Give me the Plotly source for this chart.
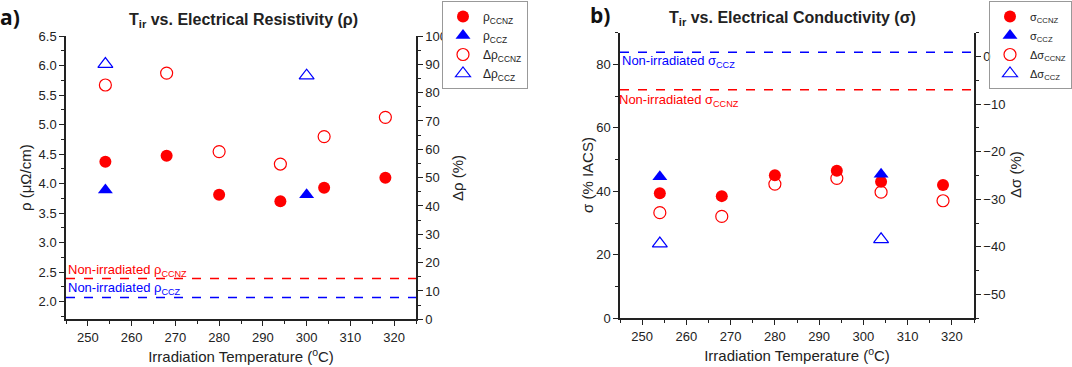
import plotly.graph_objects as go

# ---- data ----
temp_ccnz = [254, 268, 280, 294, 304, 318]
temp_ccz = [254, 300]
rho_ccnz = [4.37, 4.47, 3.81, 3.70, 3.93, 4.10]
rho_ccz = [3.89, 3.81]
drho_ccnz = [82.7, 86.9, 59.2, 54.8, 64.5, 71.3]
drho_ccz = [90.1, 86.0]
rho_ref_ccnz = 2.39
rho_ref_ccz = 2.07

temp_ccz_b = [254, 304]
sig_ccnz = [39.4, 38.5, 45.1, 46.5, 43.0, 42.0]
sig_ccz = [44.6, 45.4]
dsig_ccnz = [-32.8, -33.6, -26.8, -25.6, -28.5, -30.3]
dsig_ccz = [-39.3, -38.4]
sig_ref_ccz = 83.8
sig_ref_ccnz = 72.0

RED = "#ff0000"
BLUE = "#0000ff"
FONT = "Arial, Liberation Sans, sans-serif"
W, H = 1072, 367
ML, MR, MT, MB = 60, 82, 30, 45
PW, PH = W - ML - MR, H - MT - MB


def px(x):
    return (x - ML) / PW


def py(y):
    return (H - MB - y) / PH


fig = go.Figure()


def add(x, y, name, color, symbol, size, xa, ya, legend, open_=False):
    if open_:
        marker = dict(symbol=symbol, size=size, color=color, line=dict(color=color, width=1.2))
    else:
        marker = dict(symbol=symbol, size=size, color=color, line=dict(width=0))
    fig.add_trace(go.Scatter(x=x, y=y, mode="markers", name=name, marker=marker,
                             xaxis=xa, yaxis=ya, legend=legend))


# panel a
add(temp_ccnz, rho_ccnz, "ρ<sub>CCNZ</sub>", RED, "circle", 12, "x", "y", "legend")
add(temp_ccz, rho_ccz, "ρ<sub>CCZ</sub>", BLUE, "triangle-up", 13, "x", "y", "legend")
add(temp_ccnz, drho_ccnz, "Δρ<sub>CCNZ</sub>", RED, "circle-open", 12, "x", "y2", "legend", True)
add(temp_ccz, drho_ccz, "Δρ<sub>CCZ</sub>", BLUE, "triangle-up-open", 13, "x", "y2", "legend", True)
# panel b
add(temp_ccnz, sig_ccnz, "σ<sub>CCNZ</sub>", RED, "circle", 12, "x2", "y3", "legend2")
add(temp_ccz_b, sig_ccz, "σ<sub>CCZ</sub>", BLUE, "triangle-up", 13, "x2", "y3", "legend2")
add(temp_ccnz, dsig_ccnz, "Δσ<sub>CCNZ</sub>", RED, "circle-open", 12, "x2", "y4", "legend2", True)
add(temp_ccz_b, dsig_ccz, "Δσ<sub>CCZ</sub>", BLUE, "triangle-up-open", 13, "x2", "y4", "legend2", True)

axis_common = dict(showline=True, linecolor="#222", linewidth=1.5, ticks="outside",
                   ticklen=5, tickwidth=1.3, tickcolor="#222", showgrid=False, zeroline=False,
                   tickfont=dict(family=FONT, size=13, color="#222"),
                   minor=dict(ticks="outside", ticklen=3, tickwidth=1.1, tickcolor="#222", showgrid=False))

tf = dict(family=FONT, size=15, color="#222")
xt = dict(text="Irradiation Temperature (<sup>o</sup>C)", font=tf, standoff=8)

fig.update_layout(
    width=W, height=H,
    margin=dict(l=ML, r=MR, t=MT, b=MB, autoexpand=False),
    plot_bgcolor="white", paper_bgcolor="white",
    font=dict(family=FONT, color="#222"),
    showlegend=True,
    xaxis=dict(domain=[px(66), px(416)], range=[245, 325], tick0=250, dtick=10, anchor="y",
               title=xt, minor_dtick=5, **axis_common),
    yaxis=dict(domain=[py(319.3), py(36)], range=[1.7, 6.5], tick0=2.0, dtick=0.5, tickformat=".1f",
               anchor="x", minor_dtick=0.25, **axis_common),
    yaxis2=dict(overlaying="y", side="right", anchor="x", range=[0, 100], tick0=0, dtick=10,
                minor_dtick=5, **axis_common),
    xaxis2=dict(domain=[px(620), px(974)], range=[245, 325], tick0=250, dtick=10, anchor="y3",
                title=xt, minor_dtick=5, **axis_common),
    yaxis3=dict(domain=[py(318.3), py(32.7)], range=[0, 90], tick0=0, dtick=20, anchor="x2",
                minor_dtick=10, **axis_common),
    yaxis4=dict(overlaying="y3", side="right", anchor="x2", range=[-55, 5], tick0=0, dtick=10,
                minor_dtick=5, **axis_common),
    legend=dict(xref="container", yref="container", x=528 / W, y=1 - 1 / H, xanchor="right", yanchor="top",
                bordercolor="#999", borderwidth=1,
                bgcolor="white", font=dict(family=FONT, size=12, color="#222"),
                itemwidth=30, tracegroupgap=0),
    legend2=dict(xref="container", yref="container", x=1072 / W, y=1 - 1 / H, xanchor="right", yanchor="top",
                 bordercolor="#999", borderwidth=1,
                 bgcolor="rgba(255,255,255,0)", font=dict(family=FONT, size=11, color="#222"),
                 itemwidth=30, tracegroupgap=0),
)

# reference dashed lines
for yv, col, ya, xa in [(rho_ref_ccnz, RED, "y", "x"), (rho_ref_ccz, BLUE, "y", "x"),
                        (sig_ref_ccz, BLUE, "y3", "x2"), (sig_ref_ccnz, RED, "y3", "x2")]:
    fig.add_shape(type="line", xref=f"{xa} domain", yref=ya, x0=0, x1=1, y0=yv, y1=yv,
                  line=dict(color=col, width=1.5, dash="dash"))

lf = 13
ann = []
ann.append(dict(xref="x domain", yref="y", x=0.0, y=rho_ref_ccnz, xanchor="left", yanchor="bottom",
                text="Non-irradiated ρ<sub>CCNZ</sub>", font=dict(family=FONT, size=lf, color=RED),
                showarrow=False, yshift=-2))
ann.append(dict(xref="x domain", yref="y", x=0.0, y=rho_ref_ccz, xanchor="left", yanchor="bottom",
                text="Non-irradiated ρ<sub>CCZ</sub>", font=dict(family=FONT, size=lf, color=BLUE),
                showarrow=False, yshift=-2))
ann.append(dict(xref="x2 domain", yref="y3", x=0.0, y=sig_ref_ccz, xanchor="left", yanchor="top",
                text="Non-irradiated σ<sub>CCZ</sub>", font=dict(family=FONT, size=lf, color=BLUE),
                showarrow=False, yshift=1))
ann.append(dict(xref="x2 domain", yref="y3", x=0.0, y=sig_ref_ccnz, xanchor="left", yanchor="top",
                text="Non-irradiated σ<sub>CCNZ</sub>", font=dict(family=FONT, size=lf, color=RED),
                showarrow=False, xshift=-3, yshift=0))
# y-axis titles
for text, xx, yy in [("ρ (μΩ/cm)", 25, 178), ("Δρ (%)", 457, 178),
                     ("σ (% IACS)", 587, 175), ("Δσ (%)", 1015, 175)]:
    ann.append(dict(xref="paper", yref="paper", x=px(xx), y=py(yy), xanchor="center", yanchor="middle",
                    text=text, textangle=-90, font=tf, showarrow=False))
# titles
ann.append(dict(xref="paper", yref="paper", x=px(243), y=py(20), xanchor="center", yanchor="middle",
                text="<b>T<sub>ir</sub> vs. Electrical Resistivity (ρ)</b>",
                font=dict(family=FONT, size=16, color="#222"), showarrow=False))
ann.append(dict(xref="paper", yref="paper", x=px(792), y=py(18), xanchor="center", yanchor="middle",
                text="<b>T<sub>ir</sub> vs. Electrical Conductivity (σ)</b>",
                font=dict(family=FONT, size=16, color="#222"), showarrow=False))
ann.append(dict(xref="paper", yref="paper", x=px(-2), y=py(17), xanchor="left", yanchor="middle",
                text="<b>a)</b>", font=dict(family="Open Sans, Arial", size=21, color="#111"), showarrow=False))
ann.append(dict(xref="paper", yref="paper", x=px(588), y=py(15), xanchor="left", yanchor="middle",
                text="<b>b)</b>", font=dict(family="Open Sans, Arial", size=21, color="#111"), showarrow=False))
fig.update_layout(annotations=ann)

fig.write_html("out.html", post_script="document.body.style.margin='0';",
               config={"displayModeBar": False})
